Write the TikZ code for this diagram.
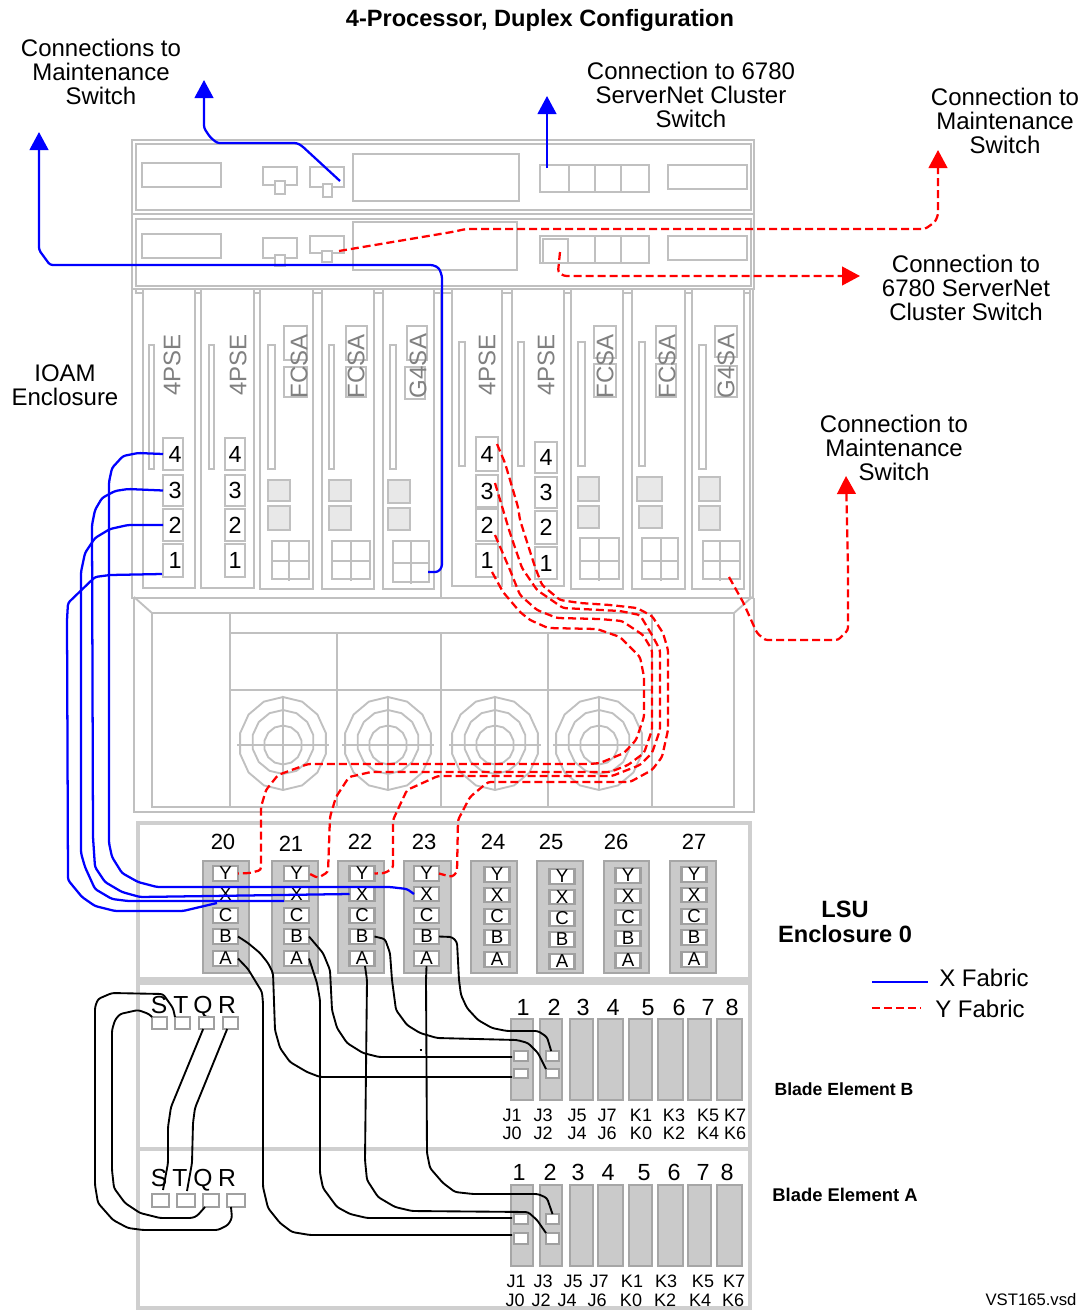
\documentclass[tikz,border=0pt]{standalone}
\usepackage{fontspec}
\setmainfont{Liberation Sans}
\usetikzlibrary{arrows.meta}
\definecolor{gl}{HTML}{C0C0C0}
\definecolor{gt}{HTML}{808080}
\definecolor{md}{HTML}{A6A6A6}
\definecolor{mf}{HTML}{CACACA}
\definecolor{sq}{HTML}{E8E8E8}
\definecolor{pd}{HTML}{A0A0A0}
\definecolor{encl}{HTML}{CFCFCF}
\tikzset{
  base/.style={inner sep=0pt,outer sep=0pt,rectangle},
  gline/.style={draw=gl,line width=1.4pt},
  gbox/.style={base,draw=gl,line width=1.4pt,fill=white},
  sqbox/.style={base,draw=gl,line width=1.4pt,fill=sq},
  nbox/.style={base,draw=gl,line width=1.4pt,fill=white,font=\fontsize{17.5}{18}\selectfont},
  nboxr/.style={nbox,execute at begin node={\hspace{3pt}}},
  modbox/.style={base,draw=md,line width=1.4pt,fill=mf},
  port/.style={base,draw=pd,line width=1.6pt,fill=white,font=\fontsize{14}{14}\selectfont},
  encbox/.style={draw=encl,line width=3pt},
  lab/.style={inner sep=0pt,align=center,font=\fontsize{18}{18.3}\selectfont},
  numlab/.style={inner sep=0pt,font=\fontsize{16.5}{18}\selectfont},
  bladenum/.style={inner sep=0pt,anchor=base,font=\fontsize{17.5}{18}\selectfont},
  stqr/.style={inner sep=0pt,anchor=base,font=\fontsize{18.5}{18}\selectfont},
  jlab/.style={inner sep=0pt,font=\fontsize{13.5}{15}\selectfont},
  boldlab/.style={inner sep=0pt,align=center,font=\fontsize{17.7}{18.3}\bfseries\selectfont},
  slotlab/.style={inner sep=0pt,rotate=90,text=gt,font=\fontsize{18}{18}\selectfont},
  bluew/.style={draw=blue,line width=1.7pt,rounded corners=2pt},
  redw/.style={draw=red,line width=1.7pt,dash pattern=on 6pt off 3pt,rounded corners=2pt},
  blackw/.style={draw=black,line width=1.4pt,rounded corners=2pt},
  bluearrow/.style={bluew,-{Triangle[length=13.5pt,width=14pt]}},
  redarrow/.style={redw,-{Triangle[length=13.5pt,width=14pt]}},
}
\newcommand{\bx}[7]{\node[#1,minimum width={((#4)-(#2))*0.75pt},minimum height={((#5)-(#3))*0.75pt}] (#6) at ({((#2)+(#4))/2},{((#3)+(#5))/2}) {#7};}
\newcommand{\slotopen}[3]{\draw[gline] (#1,289) -- (#1,#3) -- (#2,#3) -- (#2,289);}
\newcommand{\fan}[1]{%
  \draw[gline] plot[samples=15,domain=0:360] ({#1+44*sin(\x)},{743.5-46.5*cos(\x)}) -- cycle;
  \draw[gline] plot[samples=15,domain=0:360] ({#1+31*sin(\x)},{742-32*cos(\x)}) -- cycle;
  \draw[gline] plot[samples=15,domain=0:360] ({#1+19*sin(\x)},{745-19.5*cos(\x)}) -- cycle;
  \draw[gline] (#1-46,745) -- (#1+46,745);
  \draw[gline] (#1,697) -- (#1,790);}
\newcommand{\gridbox}[7]{\node[base,minimum width={((#2)-(#1))*0.75pt},minimum height={((#4)-(#3))*0.75pt},draw=gl,line width=1.4pt] (#7) at ({((#1)+(#2))/2},{((#3)+(#4))/2}) {};
  \draw[gline] (#5,#3) -- (#5,#4+2);
  \draw[gline] (#1,#6) -- (#2,#6);}
\newcommand{\lsumod}[3]{% name, centre x, y shift
  \bx{port}{#2-12.5}{866+#3}{#2+12.5}{881+#3}{#1Y}{Y}
  \bx{port}{#2-12.5}{887+#3}{#2+12.5}{901+#3}{#1X}{X}
  \bx{port}{#2-12.5}{908+#3}{#2+12.5}{923+#3}{#1C}{C}
  \bx{port}{#2-12.5}{929+#3}{#2+12.5}{944+#3}{#1B}{B}
  \bx{port}{#2-12.5}{951+#3}{#2+12.5}{966+#3}{#1A}{A}}
\begin{document}
\begin{tikzpicture}[x=0.75pt,y=-0.75pt]
\useasboundingbox (0,0) rectangle (1085,1310);
\fill[white] (0,0) rectangle (1085,1310);

% --- upper enclosure
\draw[gline] (132,140) rectangle (754,289);
\draw[gline] (132,214) -- (754,214);
\draw[gline] (136,144) rectangle (751,210);
\draw[gline] (136,219) rectangle (751,286);
\bx{gbox}{142}{163}{221}{187}{ra}{}
\bx{gbox}{263}{167}{297}{185}{rb}{}
\bx{gbox}{275}{181}{285}{194}{rbs}{}
\bx{gbox}{310}{167}{344}{187}{rc}{}
\bx{gbox}{323}{184}{332}{197}{rcs}{}
\bx{gbox}{353}{154}{519}{201}{rd}{}
\bx{gbox}{540}{165}{649}{192}{re}{}
\draw[gline] (569,165) -- (569,192) (595,165) -- (595,192) (621,165) -- (621,192);
\bx{gbox}{668}{165}{747}{189}{rf}{}
\bx{gbox}{142}{234}{221}{258}{sa}{}
\bx{gbox}{263}{238}{297}{258}{sb}{}
\bx{gbox}{275}{255}{285}{266}{sbs}{}
\bx{gbox}{310}{236}{344}{253}{sc}{}
\bx{gbox}{322}{251}{332}{262}{scs}{}
\bx{gbox}{353}{222}{517}{270}{sd}{}
\bx{gbox}{540}{236}{649}{263}{se}{}
\bx{gbox}{543}{239}{568}{263}{sei}{}
\draw[gline] (595,236) -- (595,263) (621,236) -- (621,263);
\bx{gbox}{668}{236}{747}{260}{sf}{}

% --- slot frame
\draw[gline] (132,289) -- (132,598) -- (753,598) -- (753,289);
\draw[gline] (136,289) -- (136,293) -- (143,293);
\draw[gline] (750,289) -- (750,598);
\draw[gline] (441,289) -- (441,598);
\draw[gline] (195,293) -- (201,293) (254,293) -- (260,293) (313,293) -- (322,293) (374,293) -- (383,293) (434,293) -- (452,293) (502,293) -- (512,293) (564,293) -- (571,293) (623,293) -- (632,293) (685,293) -- (692,293) (744,293) -- (750,293);
\slotopen{143}{195}{588}
\slotopen{201}{254}{588}
\slotopen{260}{313}{589}
\slotopen{322}{374}{589}
\slotopen{383}{434}{589}
\slotopen{452}{502}{586}
\slotopen{512}{564}{586}
\slotopen{571}{623}{589}
\slotopen{632}{685}{589}
\slotopen{692}{744}{589}
% thin bars
\bx{gbox}{149}{345}{154}{469}{ba}{}
\bx{gbox}{209}{345}{214}{469}{bb}{}
\bx{gbox}{268}{345}{275}{469}{bc}{}
\bx{gbox}{329}{345}{334}{469}{bd}{}
\bx{gbox}{390}{345}{396}{469}{be}{}
\bx{gbox}{459}{342}{465}{466}{bf}{}
\bx{gbox}{518}{342}{524}{466}{bg}{}
\bx{gbox}{578}{342}{585}{466}{bh}{}
\bx{gbox}{639}{342}{645}{466}{bi}{}
\bx{gbox}{699}{345}{706}{469}{bj}{}
% label boxes
\bx{gbox}{284}{326}{307}{360}{la}{}
\bx{gbox}{284}{367}{307}{397}{lb}{}
\bx{gbox}{346}{326}{367}{360}{lc}{}
\bx{gbox}{346}{367}{366}{397}{ld}{}
\bx{gbox}{407}{326}{427}{360}{le}{}
\bx{gbox}{405}{367}{425}{399}{lf}{}
\bx{gbox}{594}{326}{616}{358}{lg}{}
\bx{gbox}{594}{364}{616}{397}{lh}{}
\bx{gbox}{656}{326}{676}{358}{li}{}
\bx{gbox}{656}{364}{676}{397}{lj}{}
\bx{gbox}{715}{326}{737}{357}{lk}{}
\bx{gbox}{715}{366}{737}{397}{ll}{}
\node[slotlab] (t1) at (172,365) {4PSE};
\node[slotlab] (t2) at (238,365) {4PSE};
\node[slotlab] (t3) at (299,366) {FCSA};
\node[slotlab] (t4) at (356,366) {FCSA};
\node[slotlab] (t5) at (418,366) {G4SA};
\node[slotlab] (t6) at (487,365) {4PSE};
\node[slotlab] (t7) at (546,365) {4PSE};
\node[slotlab] (t8) at (605,366) {FCSA};
\node[slotlab] (t9) at (667,366) {FCSA};
\node[slotlab] (t10) at (726,366) {G4SA};
% number boxes
\bx{nboxr}{163}{438}{183}{470}{na4}{4}
\bx{nboxr}{163}{475}{183}{506}{na3}{3}
\bx{nboxr}{163}{509}{183}{541}{na2}{2}
\bx{nboxr}{163}{544}{183}{577}{na1}{1}
\bx{nbox}{225}{438}{245}{470}{nb4}{4}
\bx{nbox}{225}{475}{245}{506}{nb3}{3}
\bx{nbox}{225}{509}{245}{541}{nb2}{2}
\bx{nbox}{225}{544}{245}{577}{nb1}{1}
\bx{nbox}{476}{437}{498}{471}{nc4}{4}
\bx{nbox}{476}{475}{498}{507}{nc3}{3}
\bx{nbox}{476}{509}{498}{541}{nc2}{2}
\bx{nbox}{476}{544}{498}{577}{nc1}{1}
\bx{nbox}{535}{442}{557}{473}{nd4}{4}
\bx{nbox}{535}{477}{557}{508}{nd3}{3}
\bx{nbox}{535}{511}{557}{544}{nd2}{2}
\bx{nbox}{535}{547}{557}{579}{nd1}{1}
% grey squares
\bx{sqbox}{268}{480}{290}{501}{qa}{}
\bx{sqbox}{268}{506}{290}{530}{qb}{}
\bx{sqbox}{329}{480}{351}{501}{qc}{}
\bx{sqbox}{329}{506}{351}{530}{qd}{}
\bx{sqbox}{388}{480}{410}{503}{qe}{}
\bx{sqbox}{388}{508}{410}{530}{qf}{}
\bx{sqbox}{578}{477}{599}{501}{qg}{}
\bx{sqbox}{578}{506}{599}{528}{qh}{}
\bx{sqbox}{637}{477}{662}{501}{qi}{}
\bx{sqbox}{639}{506}{662}{528}{qj}{}
\bx{sqbox}{699}{477}{720}{501}{qk}{}
\bx{sqbox}{699}{506}{720}{530}{ql}{}
% grids
\gridbox{272}{309}{541}{579}{289}{561}{ga}
\gridbox{332}{370}{541}{579}{351}{561}{gb}
\gridbox{393}{429}{541}{582}{411}{563}{gc}
\gridbox{580}{619}{538}{579}{599}{561}{gd}
\gridbox{642}{678}{538}{579}{661}{561}{ge}
\gridbox{703}{740}{541}{579}{720}{561}{gf}

% --- fan tray
\draw[gline] (134,598) -- (134,812) -- (754,812) -- (754,598);
\draw[gline] (152,613) rectangle (734,807);
\draw[gline] (134,597) -- (152,613) (752,597) -- (734,613);
\draw[gline] (230,613) -- (230,807) (652,613) -- (652,807);
\draw[gline] (230,633) -- (652,633) (230,690) -- (652,690);
\draw[gline] (337,633) -- (337,807) (441,633) -- (441,807) (548,633) -- (548,807);
\fan{283}\fan{388}\fan{495}\fan{599}

% --- LSU panels
\draw[encbox] (138,823) rectangle (750,979);
\draw[encbox] (138,983) rectangle (750,1149);
\draw[encbox] (138,1149) rectangle (750,1308);

\bx{modbox}{203}{861}{249}{973}{m20}{}
\bx{modbox}{272}{861}{318}{973}{m21}{}
\bx{modbox}{338}{861}{384}{973}{m22}{}
\bx{modbox}{404}{861}{451}{973}{m23}{}
\bx{modbox}{471}{861}{517}{973}{m24}{}
\bx{modbox}{537}{861}{583}{973}{m25}{}
\bx{modbox}{604}{861}{649}{973}{m26}{}
\bx{modbox}{670}{861}{716}{973}{m27}{}
\lsumod{a}{225.5}{0}
\lsumod{b}{296.5}{0}
\lsumod{c}{362}{0}
\lsumod{d}{426.5}{0}
\lsumod{e}{497}{1}
\lsumod{f}{562}{3}
\lsumod{g}{628}{2}
\lsumod{h}{694}{1}
\node[numlab] (n20) at (223,842) {20};
\node[numlab] (n21) at (291,844) {21};
\node[numlab] (n22) at (360,842) {22};
\node[numlab] (n23) at (424,842) {23};
\node[numlab] (n24) at (493,842) {24};
\node[numlab] (n25) at (551,842) {25};
\node[numlab] (n26) at (616,842) {26};
\node[numlab] (n27) at (694,842) {27};

% --- blade element B
\bx{modbox}{511}{1019}{533}{1100}{u1}{}
\bx{modbox}{540}{1019}{562}{1100}{u2}{}
\bx{modbox}{570}{1019}{593}{1100}{u3}{}
\bx{modbox}{598}{1019}{623}{1100}{u4}{}
\bx{modbox}{629}{1019}{652}{1100}{u5}{}
\bx{modbox}{658}{1019}{683}{1100}{u6}{}
\bx{modbox}{688}{1019}{711}{1100}{u7}{}
\bx{modbox}{717}{1019}{742}{1100}{u8}{}
\bx{port}{514}{1051}{528}{1061}{ua}{}
\bx{port}{514}{1069}{528}{1078}{ub}{}
\bx{port}{546}{1051}{559}{1061}{uc}{}
\bx{port}{546}{1069}{559}{1078}{ud}{}
\foreach \nm/\xx/\tt in {ua1/523/1,ua2/554/2,ua3/583/3,ua4/613/4,ua5/648/5,ua6/679/6,ua7/708/7,ua8/732/8}
  \node[bladenum] (\nm) at (\xx,1015) {\tt};
\foreach \nm/\xx/\aa/\bb in {uj1/512/J1/J0,uj2/543/J3/J2,uj3/577/J5/J4,uj4/607/J7/J6,uj5/641/K1/K0,uj6/674/K3/K2,uj7/708/K5/K4,uj8/735/K7/K6}{
  \node[jlab] (\nm a) at (\xx,1115) {\aa};
  \node[jlab] (\nm b) at (\xx,1133) {\bb};}

% --- blade element A
\bx{modbox}{511}{1185}{533}{1266}{v1}{}
\bx{modbox}{540}{1185}{562}{1266}{v2}{}
\bx{modbox}{570}{1185}{593}{1266}{v3}{}
\bx{modbox}{598}{1185}{623}{1266}{v4}{}
\bx{modbox}{629}{1185}{652}{1266}{v5}{}
\bx{modbox}{658}{1185}{683}{1266}{v6}{}
\bx{modbox}{688}{1185}{711}{1266}{v7}{}
\bx{modbox}{717}{1185}{742}{1266}{v8}{}
\bx{port}{514}{1214}{528}{1224}{va}{}
\bx{port}{514}{1233}{528}{1244}{vb}{}
\bx{port}{546}{1214}{559}{1224}{vc}{}
\bx{port}{546}{1233}{559}{1244}{vd}{}
\foreach \nm/\xx/\tt in {va1/519/1,va2/550/2,va3/578/3,va4/608/4,va5/644/5,va6/674/6,va7/703/7,va8/727/8}
  \node[bladenum] (\nm) at (\xx,1180) {\tt};
\foreach \nm/\xx/\xb/\aa/\bb in {vj1/516/515/J1/J0,vj2/543/541/J3/J2,vj3/573/567/J5/J4,vj4/599/597/J7/J6,vj5/632/631/K1/K0,vj6/666/665/K3/K2,vj7/703/700/K5/K4,vj8/734/733/K7/K6}{
  \node[jlab] (\nm a) at (\xx,1281) {\aa};
  \node[jlab] (\nm b) at (\xb,1300) {\bb};}

% --- S T Q R
\node[stqr] (us) at (159,1013) {S};
\node[stqr] (ut) at (181,1013) {T};
\node[stqr] (uq) at (203,1013) {Q};
\node[stqr] (ur) at (227,1013) {R};
\bx{port}{152}{1017}{167}{1029}{usp}{}
\bx{port}{175}{1017}{190}{1029}{utp}{}
\bx{port}{199}{1017}{214}{1029}{uqp}{}
\bx{port}{223}{1017}{238}{1029}{urp}{}
\node[stqr] (ls) at (159,1186) {S};
\node[stqr] (lt) at (180,1186) {T};
\node[stqr] (lq) at (203,1186) {Q};
\node[stqr] (lr) at (227,1186) {R};
\bx{port}{152}{1194}{169}{1207}{lsp}{}
\bx{port}{177}{1194}{195}{1207}{ltp}{}
\bx{port}{203}{1194}{219}{1207}{lqp}{}
\bx{port}{227}{1194}{245}{1207}{lrp}{}

% --- black wires
\coordinate (ubin) at (512,1077);
\coordinate (uain) at (512,1057);
\coordinate (vbin) at (512,1235);
\coordinate (vain) at (512,1218);
\draw[blackw] (utp.north west) -- (173,1008) -- (163,994) -- (112,993) -- (98,999) -- (95,1007) -- (95,1185) -- (98,1203) -- (113,1220) -- (128,1228) -- (143,1230) -- (218,1230) -- (228,1225) -- (232,1218) -- ([xshift=-3.75pt]lrp.south);
\draw[blackw] (usp.north west) -- (149,1014) -- (138,1010) -- (120,1014) -- (115,1020) -- (112,1030) -- (112,1170) -- (114,1188) -- (125,1203) -- (140,1213) -- (160,1218) -- (192,1218) -- (197,1216) -- ([xshift=1.5pt]lqp.south west);
\coordinate (lsin) at (163,1190);
\coordinate (ltin) at (187,1191);
\draw[blackw] ([xshift=-2.5pt]uqp.south) -- (171,1107) -- (168,1127) -- (168,1163) -- (lsin);
\draw[blackw] ([xshift=-2.5pt]urp.south) -- (195,1108) -- (193,1123) -- (192,1163) -- (ltin);
\draw[blackw] (aB.east) -- (248,943) -- (260,953) -- (268,963) -- (273,973) -- (275,1030) -- (280,1048) -- (290,1062) -- (307,1072) -- (320,1077) -- (ubin);
\draw[blackw] (aA.east) -- (248,969) -- (262,992) -- (263,1003) -- (263,1187) -- (268,1208) -- (280,1223) -- (292,1232) -- (310,1235) -- (vbin);
\draw[blackw] (bB.east) -- (323,953) -- (330,970) -- (332,1010) -- (337,1028) -- (347,1043) -- (363,1053) -- (379,1057) -- (uain);
\draw[blackw] (bA.east) -- (317,983) -- (320,1000) -- (320,1173) -- (323,1188) -- (337,1207) -- (350,1214) -- (367,1218) -- (vain);
\draw[blackw] (cB.east) -- (385,939) -- (390,953) -- (392,980) -- (396,1010) -- (407,1025) -- (420,1033) -- (437,1038) -- (517,1040) -- (528,1043) -- (538,1053) -- (ud.north west);
\draw[blackw] ([xshift=2.25pt]cA.south) -- (367,980) -- (365,1160) -- (367,1180) -- (378,1197) -- (395,1207) -- (412,1211) -- (528,1212) -- (537,1220) -- (vd.north west);
\draw[blackw] (dB.east) -- (452,937) -- (457,942) -- (459,980) -- (461,995) -- (467,1008) -- (478,1020) -- (492,1028) -- (507,1031) -- (538,1031) -- (547,1037) -- ([xshift=-1pt]uc.north);
\draw[blackw] (dA.south) -- (426,980) -- (427,1153) -- (430,1168) -- (443,1183) -- (455,1192) -- (473,1194) -- (538,1194) -- (547,1198) -- (vc.north);
\draw[black,line width=1.4pt] (419.5,1050) -- (422,1050);

% --- blue wires
\coordinate (naone) at (162,574);
\draw[bluew] (na4.west) -- (138,453) -- (123,456) -- (112,468) -- (109,482) -- (109,843) -- (112,857) -- (122,873) -- (138,882) -- (157,887) -- (390,887) -- (407,889) -- (dX.west);
\draw[bluew] (na3.west) -- (128,489) -- (115,491) -- (102,498) -- (95,510) -- (92,525) -- (93,837) -- (95,867) -- (105,882) -- (122,892) -- (140,897) -- (cX.west);
\draw[bluew] (na2.west) -- (128,525) -- (110,529) -- (95,538) -- (85,553) -- (81,572) -- (81,853) -- (85,867) -- (95,889) -- (112,899) -- (128,901) -- (bX.south west);
\draw[bluew] (naone) -- (110,575) -- (95,577) -- (68,603) -- (67,620) -- (68,880) -- (82,897) -- (95,906) -- (115,911) -- (183,911) -- ([xshift=3pt,yshift=-1.5pt]aX.south west);
\coordinate (topa) at (204,80);
\coordinate (topb) at (39,132);
\coordinate (topc) at (547,96);
\coordinate (rcin) at (340,181);
\coordinate (rein) at (547,168);
\coordinate (gcin) at (428,572);
\draw[bluearrow] (rcin) -- (302,146) -- (297,143) -- (217,143) -- (210,137) -- (204,128) -- (topa);
\draw[bluearrow] (gcin) -- (438,572) -- (442,567) -- (442,276) -- (439,268) -- (433,265) -- (50,265) -- (39,250) -- (topb);
\draw[bluearrow] (rein) -- (topc);

% --- red wires
\coordinate (tipa) at (938,150);
\coordinate (tipb) at (860,276);
\coordinate (tipc) at (846,476);
\coordinate (scin) at (339,251);
\coordinate (seiin) at (560,252);
\coordinate (gfin) at (729,577);
\coordinate (rc4) at (497,444);
\coordinate (rc3) at (495,483);
\coordinate (rc2) at (495,535);
\coordinate (rc1) at (492,572);
\draw[redarrow] (scin) -- (452,232) -- (466,229) -- (925,229) -- (935,222) -- (938,215) -- (tipa);
\draw[redarrow] (seiin) -- (558,272) -- (564,276) -- (tipb);
\draw[redarrow] (gfin) -- (743,602) -- (757,633) -- (765,640) -- (838,640) -- (848,630) -- (848,570) -- (tipc);
\draw[redw] (rc4) -- (505,463) -- (518,507) -- (520,520) -- (535,567) -- (542,585) -- (560,600) -- (580,603) -- (610,605) -- (637,608) -- (652,616) -- (663,633) -- (668,650) -- (668,730) -- (662,757) -- (652,770) -- (630,782) -- (488,782) -- (470,797) -- (458,820) -- (457,872) -- (452,877) -- (dY.east);
\draw[redw] (rc3) -- (510,533) -- (522,568) -- (537,590) -- (563,608) -- (620,611) -- (640,615) -- (652,635) -- (660,650) -- (660,730) -- (652,753) -- (640,765) -- (612,776) -- (438,776) -- (407,790) -- (399,807) -- (393,820) -- (393,868) -- (385,873) -- (cY.east);
\draw[redw] (rc2) -- (510,570) -- (520,595) -- (537,610) -- (557,618) -- (600,619) -- (622,621) -- (643,635) -- (652,650) -- (652,730) -- (644,753) -- (628,765) -- (610,772) -- (371,772) -- (349,777) -- (336,797) -- (330,817) -- (328,872) -- (318,878) -- (bY.east);
\draw[redw] (rc1) -- (503,592) -- (520,612) -- (530,620) -- (548,628) -- (597,629) -- (620,637) -- (633,650) -- (640,657) -- (644,677) -- (644,717) -- (636,740) -- (624,753) -- (600,763) -- (590,764) -- (308,764) -- (278,775) -- (266,790) -- (261,807) -- (261,870) -- (250,873) -- (aY.east);

% --- texts
\node[boldlab] (title) at (540,20) {4-Processor, Duplex Configuration};
\node[lab] (ca) at (101,72) {Connections to\\Maintenance\\Switch};
\node[lab] (cb) at (691,95) {Connection to 6780\\ServerNet Cluster\\Switch};
\node[lab] (cc) at (1005,121) {Connection to\\Maintenance\\Switch};
\node[lab] (cd) at (966,288) {Connection to\\6780 ServerNet\\Cluster Switch};
\node[lab] (ce) at (65,385) {IOAM\\Enclosure};
\node[lab] (cf) at (894,448) {Connection to\\Maintenance\\Switch};
\node[boldlab] (lsu) at (845,922) {LSU\\Enclosure 0};
\node[inner sep=0pt] (lgbs) at (871,982) {};
\node[inner sep=0pt] (lgbe) at (929,982) {};
\node[inner sep=0pt] (lgrs) at (871,1008) {};
\node[inner sep=0pt] (lgre) at (922,1008) {};
\draw[draw=blue,line width=1.7pt] (lgbs) -- (lgbe);
\draw[draw=red,line width=1.7pt,dash pattern=on 6pt off 3pt] (lgrs) -- (lgre);
\node[lab] (xf) at (984,978) {X Fabric};
\node[lab] (yf) at (980,1009) {Y Fabric};
\node[boldlab,font=\fontsize{13.2}{14}\bfseries\selectfont] (bb1) at (844,1089) {Blade Element B};
\node[boldlab,font=\fontsize{13.8}{14}\bfseries\selectfont] (bb2) at (845,1195) {Blade Element A};
\node[inner sep=0pt,font=\fontsize{12.5}{13}\selectfont] (vst) at (1031,1300) {VST165.vsd};
\end{tikzpicture}
\end{document}
